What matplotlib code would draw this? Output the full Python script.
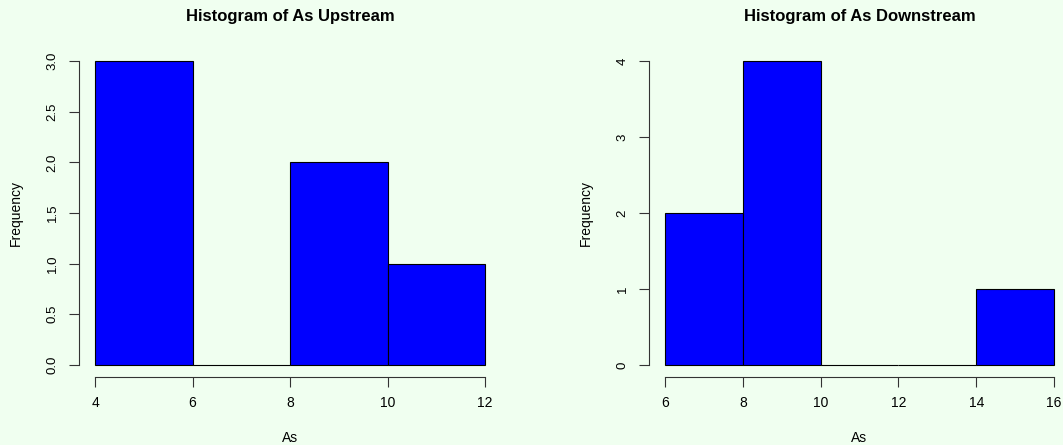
import matplotlib
matplotlib.use("Agg")
import matplotlib.pyplot as plt

up_edges = [4, 6, 8, 10, 12]
up_counts = [3, 0, 2, 1]
down_edges = [6, 8, 10, 12, 14, 16]
down_counts = [2, 4, 0, 0, 1]
up_yticks = [0.0, 0.5, 1.0, 1.5, 2.0, 2.5, 3.0]
down_yticks = [0, 1, 2, 3, 4]

plt.rcParams['font.family'] = ['Liberation Sans', 'DejaVu Sans']
bg = '#F0FFF0'
W, H = 1063, 445
fig = plt.figure(figsize=(W / 100, H / 100), dpi=100, facecolor=bg)

def px_axes(l, r, t, b):
    return fig.add_axes([l / W, 1 - b / H, (r - l) / W, (b - t) / H])

def draw(ax, edges, counts, yticks, title, ylabfmt):
    ax.set_facecolor(bg)
    lefts = edges[:-1]
    widths = [edges[i + 1] - edges[i] for i in range(len(counts))]
    ax.bar(lefts, counts, width=widths, align='edge', color='#0000FF',
           edgecolor='black', linewidth=0.8)
    x0, x1 = edges[0], edges[-1]
    dx = (x1 - x0) * 0.04
    ymax = max(yticks)
    dy = ymax * 0.04
    ax.set_xlim(x0 - dx, x1 + dx)
    ax.set_ylim(-dy, ymax + dy)
    for s in ['top', 'right']:
        ax.spines[s].set_visible(False)
    ax.spines['left'].set_bounds(0, ymax)
    ax.spines['bottom'].set_bounds(x0, x1)
    for s in ['left', 'bottom']:
        ax.spines[s].set_color('#333333')
        ax.spines[s].set_linewidth(0.8)
    ax.set_xticks(edges)
    ax.set_xticklabels([str(e) for e in edges])
    ax.set_yticks(yticks)
    ax.set_yticklabels([ylabfmt.format(v) for v in yticks], rotation=90, va='center')
    ax.tick_params(axis='both', length=7, width=0.8, color='#333333', labelsize=10)
    ax.tick_params(axis='x', pad=7)
    ax.tick_params(axis='y', pad=8, labelsize=9.5)
    ax.set_title(title, fontsize=12, fontweight='bold', pad=20)
    ax.set_xlabel('As', fontsize=10, labelpad=15)
    ax.set_ylabel('Frequency', fontsize=10, labelpad=17)

ax1 = px_axes(79.4, 500.6, 49, 377)
draw(ax1, up_edges, up_counts, up_yticks, 'Histogram of As Upstream', '{:.1f}')
ax2 = px_axes(649.4, 1069.6, 49, 377)
draw(ax2, down_edges, down_counts, down_yticks, 'Histogram of As Downstream', '{:d}')

fig.savefig('out.png', dpi=100, facecolor=bg)
